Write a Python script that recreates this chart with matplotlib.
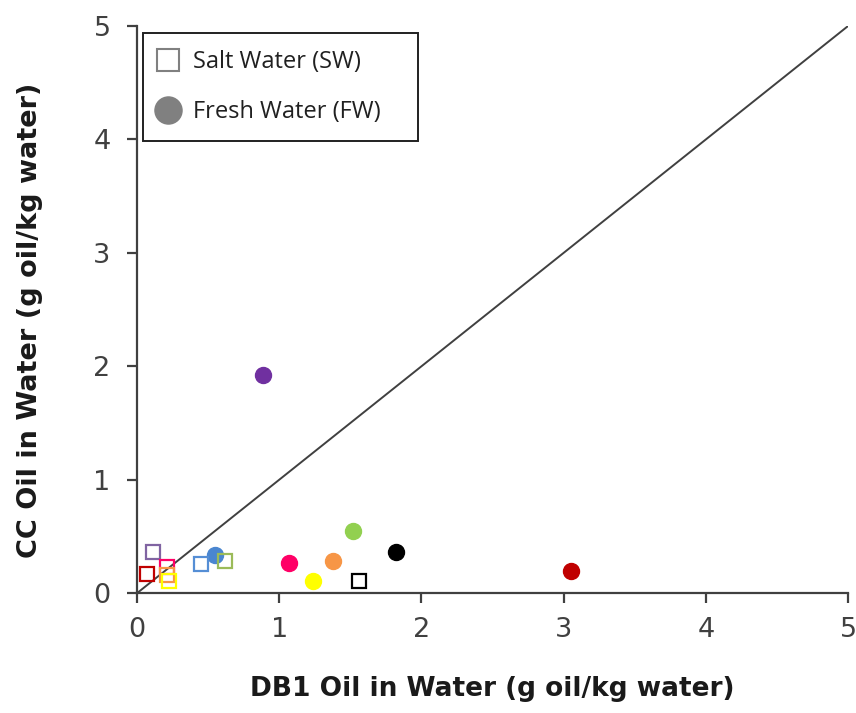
import matplotlib.pyplot as plt
from matplotlib.lines import Line2D

# Salt water (open squares)
sw_x = [0.11, 0.07, 0.21, 0.21, 0.225, 0.45, 0.62, 1.56]
sw_y = [0.36, 0.165, 0.23, 0.16, 0.105, 0.26, 0.285, 0.11]
sw_col = ["#8064A2", "#C00000", "#FF0066", "#F79646", "#FFFF00", "#558ED5", "#9BBB59", "#000000"]

# Fresh water (filled circles)
fw_x = [0.55, 1.07, 1.235, 1.375, 1.52, 1.82, 3.05, 0.885]
fw_y = [0.34, 0.27, 0.11, 0.285, 0.55, 0.365, 0.20, 1.92]
fw_col = ["#4A86D0", "#FF0066", "#FFFF00", "#F79646", "#92D050", "#000000", "#C00000", "#7030A0"]

line_x = [0, 5]
line_y = [0, 5]

fig = plt.figure(figsize=(8.56, 7.13), dpi=100)
ax = fig.add_axes([0.16, 0.168, 0.8307, 0.7955])

ax.plot(line_x, line_y, color="#404040", lw=1.4, zorder=1)
for x, y, c in zip(sw_x, sw_y, sw_col):
    ax.plot(x, y, marker="s", ms=10, mfc="none", mec=c, mew=1.6, ls="none", zorder=3)
for x, y, c in zip(fw_x, fw_y, fw_col):
    ax.plot(x, y, marker="o", ms=11.5, mfc=c, mec=c, ls="none", zorder=2)

ax.set_xlim(0, 5)
ax.set_ylim(0, 5)
ax.set_xticks(range(6))
ax.set_yticks(range(6))
for s in ["top", "right"]:
    ax.spines[s].set_visible(False)
for s in ["left", "bottom"]:
    ax.spines[s].set_color("#404040")
    ax.spines[s].set_linewidth(1.6)
ax.tick_params(direction="out", length=7, width=1.6, color="#404040",
               labelsize=19.5, labelcolor="#404040")
ax.tick_params(axis="y", pad=12)
ax.tick_params(axis="x", pad=10)

ax.set_xlabel("DB1 Oil in Water (g oil/kg water)", fontsize=19,
              fontweight="bold", color="#1a1a1a", labelpad=24)
ax.set_ylabel("CC Oil in Water (g oil/kg water)", fontsize=19.5,
              fontweight="bold", color="#1a1a1a")
ax.yaxis.set_label_coords(-0.132, 0.481)

handles = [
    Line2D([], [], marker="s", ms=16.5, mfc="none", mec="#808080", mew=1.5, ls="none"),
    Line2D([], [], marker="o", ms=19.5, mfc="#808080", mec="#808080", ls="none"),
]
leg = ax.legend(handles, ["Salt Water (SW)", "Fresh Water (FW)"], loc="upper left",
                bbox_to_anchor=(0.0084, 0.5, 0.387, 0.488), mode="expand",
                fancybox=False, framealpha=1,
                edgecolor="#202020", prop={"family": "Open Sans", "size": 17},
                labelspacing=1.12, handlelength=0.7, handletextpad=0.7,
                borderpad=0.72, borderaxespad=0)
leg.get_frame().set_linewidth(1.4)
for t in leg.get_texts():
    t.set_color("#202020")

fig.savefig("out.png", dpi=100)
